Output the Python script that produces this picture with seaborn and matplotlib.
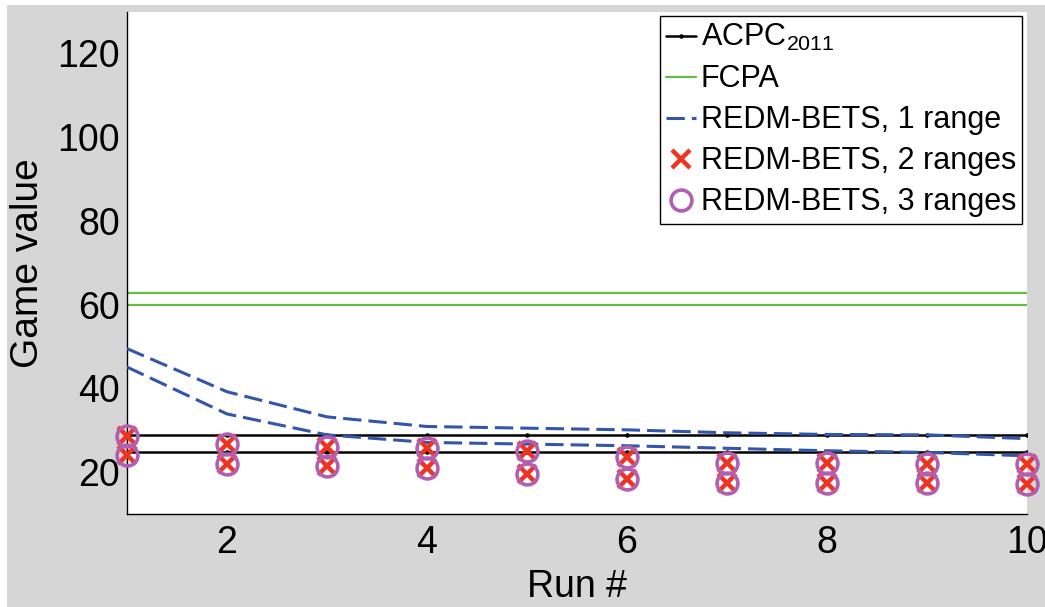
import matplotlib
matplotlib.use("Agg")
import matplotlib.pyplot as plt
from matplotlib.patches import Rectangle
import seaborn as sns

# Runs and game values per algorithm (two curves per algorithm)
runs = [1, 2, 3, 4, 5, 6, 7, 8, 9, 10]
acpc_hi = [28.9, 28.9, 28.9, 28.9, 28.9, 28.9, 28.9, 28.9, 28.9, 28.9]
acpc_lo = [24.8, 24.8, 24.8, 24.8, 24.8, 24.8, 24.8, 24.8, 24.8, 24.8]
fcpa_hi = [62.9, 62.9, 62.9, 62.9, 62.9, 62.9, 62.9, 62.9, 62.9, 62.9]
fcpa_lo = [59.9, 59.9, 59.9, 59.9, 59.9, 59.9, 59.9, 59.9, 59.9, 59.9]
redm1_hi = [49.5, 39.2, 33.2, 30.9, 30.5, 30.1, 29.4, 29.0, 28.9, 28.0]
redm1_lo = [45.1, 33.9, 28.9, 27.1, 26.7, 26.3, 25.7, 25.1, 24.7, 23.9]
redm2_hi = [28.7, 26.8, 25.9, 25.7, 25.1, 23.7, 22.3, 22.1, 22.0, 22.0]
redm2_lo = [24.0, 21.9, 21.5, 20.9, 19.6, 18.4, 17.4, 17.4, 17.4, 17.2]
redm3_hi = [28.7, 26.8, 25.9, 25.7, 25.1, 23.7, 22.3, 22.1, 22.0, 22.0]
redm3_lo = [24.0, 21.9, 21.5, 20.9, 19.6, 18.4, 17.4, 17.4, 17.4, 17.2]

labels = ["ACPC$_{2011}$", "FCPA", "REDM-BETS, 1 range",
          "REDM-BETS, 2 ranges", "REDM-BETS, 3 ranges"]
x_ticks = [2, 4, 6, 8, 10]
y_ticks = [20, 40, 60, 80, 100, 120]

sns.set_style("white")
plt.rcParams["font.family"] = ["Liberation Sans", "DejaVu Sans"]
plt.rcParams["mathtext.default"] = "regular"
plt.rcParams["text.color"] = "black"
plt.rcParams["axes.labelcolor"] = "black"

W, H = 1045, 607
fig = plt.figure(figsize=(W / 100, H / 100), dpi=100, facecolor="white")
fig.patches.append(Rectangle((7 / W, 0), 1 - 7 / W, 1 - 5 / H,
                             transform=fig.transFigure, facecolor="#d6d6d6",
                             edgecolor="none", zorder=-5))

ax = fig.add_axes([127 / W, 1 - 514 / H, 900 / W, (514 - 11.6) / H])
ax.set_facecolor("white")

black = "#000000"
green = "#66bb44"
blue = "#3355aa"
red = "#ee3322"
purple = "#b25fb2"

handles = []
for ys in [acpc_hi, acpc_lo]:
    sns.lineplot(x=runs, y=ys, ax=ax, color=black, linewidth=1.8,
                 marker=".", markersize=5, markeredgecolor=black,
                 markerfacecolor=black, errorbar=None, zorder=3)
handles.append(ax.get_lines()[-1])

for ys in [fcpa_hi, fcpa_lo]:
    sns.lineplot(x=runs, y=ys, ax=ax, color=green, linewidth=1.6,
                 errorbar=None, zorder=2)
handles.append(ax.get_lines()[-1])

for ys in [redm1_hi, redm1_lo]:
    sns.lineplot(x=runs, y=ys, ax=ax, color=blue, linewidth=2.2,
                 linestyle=(0, (6, 2.3)), errorbar=None, zorder=4)
handles.append(ax.get_lines()[-1])

for ys in [redm2_hi, redm2_lo]:
    sns.lineplot(x=runs, y=ys, ax=ax, color=red, linestyle="none",
                 marker="x", markersize=13, markeredgewidth=3.2,
                 markeredgecolor=red, errorbar=None, zorder=5, clip_on=False)
handles.append(ax.get_lines()[-1])

for ys in [redm3_hi, redm3_lo]:
    sns.lineplot(x=runs, y=ys, ax=ax, color=purple, linestyle="none",
                 marker="o", markersize=15, markeredgewidth=2.6,
                 markerfacecolor="none", markeredgecolor=purple,
                 errorbar=None, zorder=6, clip_on=False)
handles.append(ax.get_lines()[-1])

ax.set_xlim(1, 10)
ax.set_ylim(10, 130)
ax.set_xticks(x_ticks)
ax.set_yticks(y_ticks)
ax.set_xticklabels([str(t) for t in x_ticks])
ax.set_yticklabels([str(t) for t in y_ticks])

for side in ["top", "right"]:
    ax.spines[side].set_visible(False)
for side in ["left", "bottom"]:
    ax.spines[side].set_color("black")
    ax.spines[side].set_linewidth(1.0)

ax.tick_params(axis="both", direction="in", length=6.5, width=1.0,
               color="#808080", labelcolor="black", labelsize=27)
ax.tick_params(axis="x", pad=8)
ax.tick_params(axis="y", pad=5)

ax.set_xlabel("Run #", fontsize=27, labelpad=6, color="black")
ax.set_ylabel("Game value", fontsize=28, labelpad=8, color="black")

leg = ax.legend(handles, labels, loc="upper right", fontsize=22,
                frameon=True, fancybox=False, framealpha=1,
                edgecolor="black", handlelength=1.0, handletextpad=0.15,
                labelspacing=0.36, borderpad=0.2, borderaxespad=0.15,
                numpoints=1)
leg.get_frame().set_linewidth(1.0)
leg.set_zorder(10)
for txt in leg.get_texts():
    txt.set_color("black")

fig.savefig("out.png", dpi=100, facecolor=fig.get_facecolor())
